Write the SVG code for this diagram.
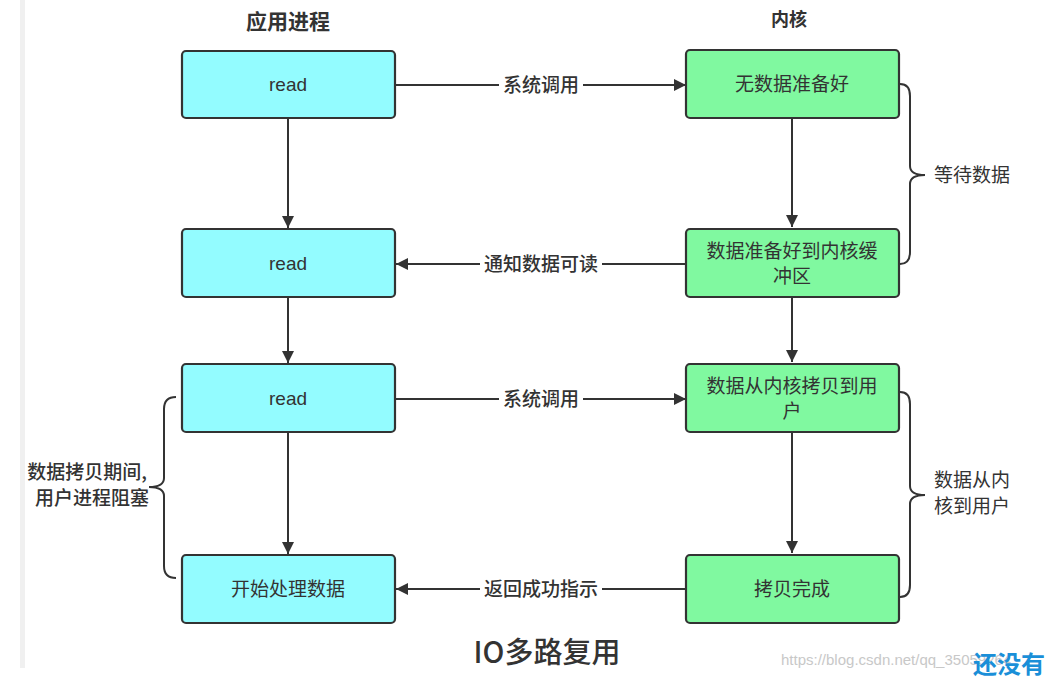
<svg xmlns="http://www.w3.org/2000/svg" width="1049" height="677" viewBox="0 0 1049 677">
<defs>
<marker id="arr" viewBox="0 0 10 10" refX="10" refY="5" markerWidth="12" markerHeight="12" markerUnits="userSpaceOnUse" orient="auto"><path d="M0,0 L10,5 L0,10 z" fill="#333"/></marker>
<style>
.n{stroke:#333;stroke-width:2.2}
.u{fill:#93FCFF}
.k{fill:#80F9A0}
.t{font-family:"Liberation Sans","Noto Sans CJK SC",sans-serif;font-size:19px;fill:#333;text-anchor:middle}
.l{font-family:"Noto Sans CJK SC",sans-serif;font-size:19px;fill:#333;text-anchor:middle;font-weight:500}
.e{stroke:#333;stroke-width:2;fill:none}
.b{stroke:#333;stroke-width:2;fill:none}
.h{font-family:"Noto Sans CJK SC",sans-serif;fill:#333;text-anchor:middle}
</style>
</defs>
<rect width="1049" height="677" fill="#fff"/>
<rect x="20" y="0" width="5" height="668" fill="#f0f0f0"/>
<text class="h" x="288" y="29" font-size="21" font-weight="bold">应用进程</text>
<text class="h" x="789" y="26" font-size="18" font-weight="600">内核</text>
<g id="connectors">
<line class="e" x1="395" y1="85" x2="686" y2="85" marker-end="url(#arr)"/>
<line class="e" x1="686" y1="264" x2="396" y2="264" marker-end="url(#arr)"/>
<line class="e" x1="395" y1="399" x2="686" y2="399" marker-end="url(#arr)"/>
<line class="e" x1="686" y1="589" x2="396" y2="589" marker-end="url(#arr)"/>
<line class="e" x1="288" y1="118" x2="288" y2="228" marker-end="url(#arr)"/>
<line class="e" x1="288" y1="297" x2="288" y2="363" marker-end="url(#arr)"/>
<line class="e" x1="288" y1="432" x2="288" y2="554" marker-end="url(#arr)"/>
<line class="e" x1="792" y1="118" x2="792" y2="227" marker-end="url(#arr)"/>
<line class="e" x1="792" y1="297" x2="792" y2="362" marker-end="url(#arr)"/>
<line class="e" x1="792" y1="432" x2="792" y2="553" marker-end="url(#arr)"/>
<rect x="499" y="73" width="84" height="24" fill="#fff"/>
<text class="l" x="541" y="92">系统调用</text>
<rect x="480" y="252" width="122" height="24" fill="#fff"/>
<text class="l" x="541" y="271">通知数据可读</text>
<rect x="499" y="387" width="84" height="24" fill="#fff"/>
<text class="l" x="541" y="406">系统调用</text>
<rect x="480" y="577" width="122" height="24" fill="#fff"/>
<text class="l" x="541" y="596">返回成功指示</text>
</g>
<g id="u1"><rect class="n u" x="182" y="51" width="213" height="67" rx="4"/><text class="t" x="288" y="91">read</text></g>
<g id="u2"><rect class="n u" x="182" y="229" width="213" height="68" rx="4"/><text class="t" x="288" y="270">read</text></g>
<g id="u3"><rect class="n u" x="182" y="364" width="213" height="68" rx="4"/><text class="t" x="288" y="405">read</text></g>
<g id="u4"><rect class="n u" x="182" y="555" width="213" height="68" rx="4"/><text class="t" x="288" y="596">开始处理数据</text></g>
<g id="k1"><rect class="n k" x="686" y="50" width="213" height="68" rx="4"/><text class="t" x="792" y="91">无数据准备好</text></g>
<g id="k2"><rect class="n k" x="686" y="229" width="213" height="68" rx="4"/><text class="t" x="792" y="258">数据准备好到内核缓</text><text class="t" x="792" y="283">冲区</text></g>
<g id="k3"><rect class="n k" x="686" y="364" width="213" height="68" rx="4"/><text class="t" x="792" y="393">数据从内核拷贝到用</text><text class="t" x="792" y="418">户</text></g>
<g id="k4"><rect class="n k" x="686" y="555" width="213" height="68" rx="4"/><text class="t" x="792" y="596">拷贝完成</text></g>
<g id="brace1"><path class="b" d="M900,84 Q910,84 910,96 L910,166 Q910,175 925,175 Q910,175 910,184 L910,252 Q910,264 900,264"/><text class="t" x="972" y="182">等待数据</text></g>
<g id="brace2"><path class="b" d="M900,392 Q910,392 910,404 L910,486 Q910,495 925,495 Q910,495 910,504 L910,585 Q910,597 900,597"/><text class="t" x="972" y="487">数据从内</text><text class="t" x="972" y="513">核到用户</text></g>
<g id="brace3"><path class="b" d="M176,397 Q164,397 164,409 L164,478 Q164,487 149,487 Q164,487 164,496 L164,566 Q164,578 176,578"/><text class="l" x="87" y="479">数据拷贝期间,</text><text class="l" x="92" y="505">用户进程阻塞</text></g>
<text class="h" x="547" y="663" font-size="29" font-weight="500">IO多路复用</text>
<text x="781" y="665" font-family="Liberation Sans,sans-serif" font-size="15" fill="#c8c8c8">https://blog.csdn.net/qq_35059264</text>
<text x="973" y="673" font-family="Noto Sans CJK SC,sans-serif" font-size="24" font-weight="bold" fill="#1a8fd8">还没有</text>
</svg>
